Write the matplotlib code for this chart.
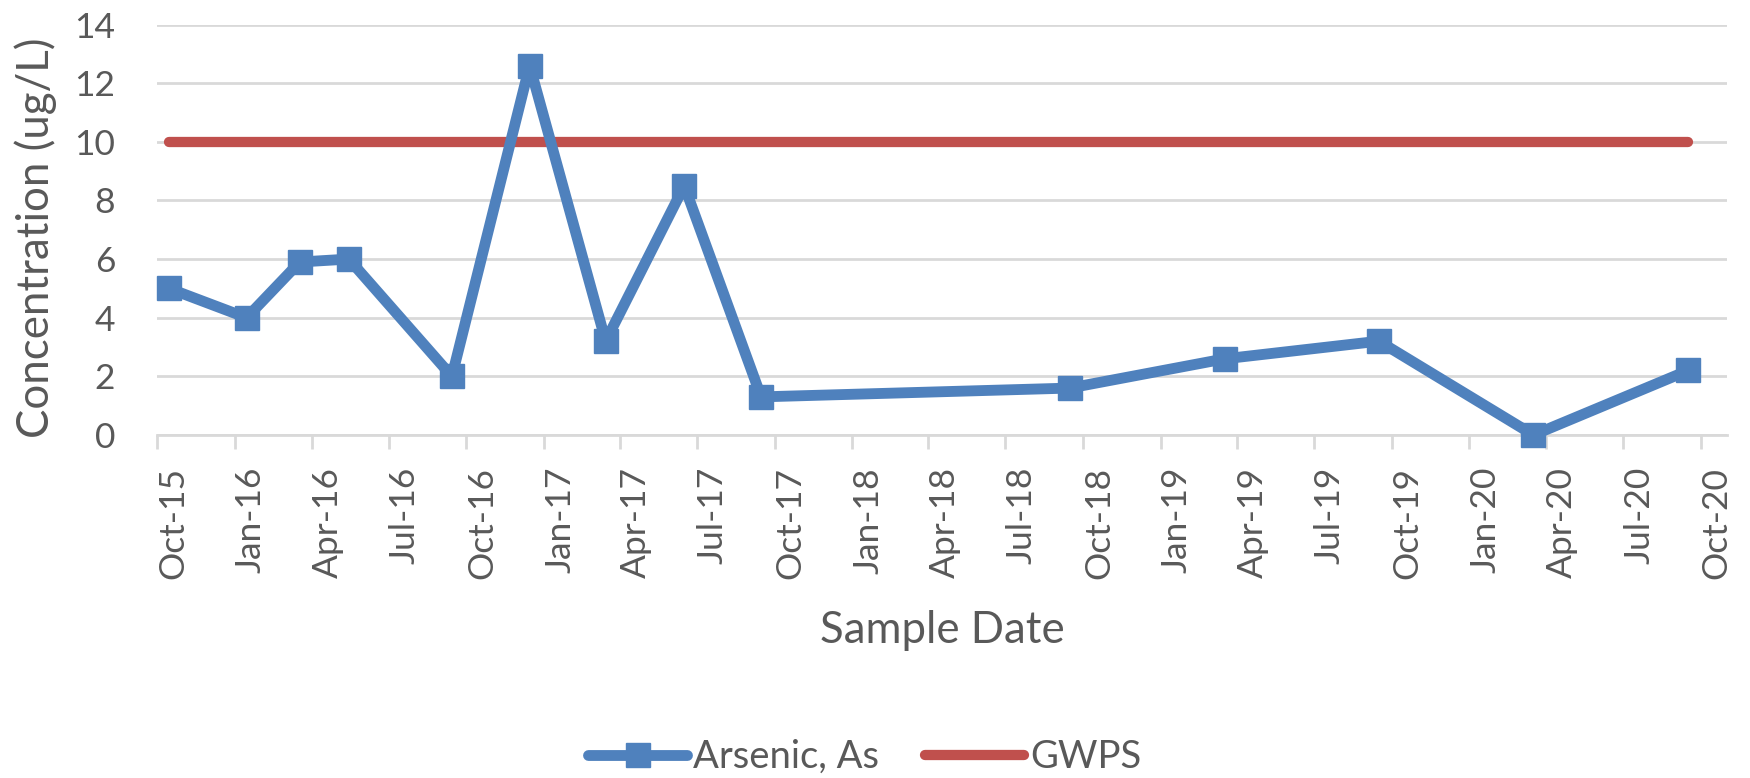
import matplotlib
matplotlib.use("Agg")
import matplotlib.pyplot as plt
import matplotlib.dates as mdates
import pandas as pd

# Arsenic sampling results
sample_dates = ["2015-10-15", "2016-01-15", "2016-03-18", "2016-05-15",
                "2016-09-14", "2016-12-15", "2017-03-15", "2017-06-16",
                "2017-09-15", "2018-09-15", "2019-03-18", "2019-09-16",
                "2020-03-17", "2020-09-16"]
arsenic = [5.0, 4.0, 5.9, 6.0, 2.0, 12.6, 3.2, 8.5, 1.3, 1.6, 2.6, 3.2, 0.0, 2.2]
gwps_limit = 10.0

series_names = ["Arsenic, As", "GWPS"]
x_title = "Sample Date"
y_title = "Concentration (ug/L)"
y_ticks = [0, 2, 4, 6, 8, 10, 12, 14]
axis_start = "2015-10-01"
axis_end = "2020-11-01"

dates = pd.to_datetime(sample_dates)
gwps = [gwps_limit] * len(dates)

BLUE = "#4f81bd"
RED = "#c0504d"
GRID = "#d9d9d9"
TEXT = "#595959"

plt.rcParams["font.family"] = ["Lato", "DejaVu Sans"]

fig = plt.figure(figsize=(17.5, 7.78), dpi=100)
ax = fig.add_axes([157 / 1750, 1 - 435 / 778, 1570 / 1750, 410.5 / 778])

ax.plot(dates, arsenic, color=BLUE, lw=7.8, marker="s", ms=17.5, mew=1.0,
        mec=BLUE, mfc=BLUE, solid_joinstyle="round", solid_capstyle="round",
        label=series_names[0], zorder=3, clip_on=False)
ax.plot(dates, gwps, color=RED, lw=7.4, solid_capstyle="round",
        label=series_names[1], zorder=2)

ax.set_ylim(0, 14)
ax.set_yticks(y_ticks)
ax.set_xlim(pd.Timestamp(axis_start), pd.Timestamp(axis_end))
ax.xaxis.set_major_locator(mdates.MonthLocator(bymonth=[1, 4, 7, 10]))
ax.xaxis.set_major_formatter(mdates.DateFormatter("%b-%y"))

ax.grid(axis="y", color=GRID, lw=2.0)
ax.set_axisbelow(True)
for side in ["top", "right", "left"]:
    ax.spines[side].set_visible(False)
ax.spines["bottom"].set_color(GRID)
ax.spines["bottom"].set_linewidth(2.0)

ax.tick_params(axis="y", length=0, pad=30, labelsize=25.5, labelcolor=TEXT)
ax.tick_params(axis="x", length=10, width=2.0, color=GRID, pad=13,
               labelsize=25.5, labelcolor=TEXT)
for lab in ax.get_xticklabels():
    lab.set_rotation(90)
    lab.set_ha("left")
    lab.set_va("top")

ax.set_xlabel(x_title, fontsize=31.5, color=TEXT, va="center")
ax.xaxis.set_label_coords(0.5, -0.477)
ax.set_ylabel(y_title, fontsize=31.5, color=TEXT, va="center")
ax.yaxis.set_label_coords(-0.077, 0.48)

fig.legend(loc="center", bbox_to_anchor=(0.494, 0.027), ncol=2, frameon=False,
           fontsize=27.5, labelcolor=TEXT, handlelength=2.6, handletextpad=0.15,
           columnspacing=1.2)

fig.savefig("out.png", dpi=100)
